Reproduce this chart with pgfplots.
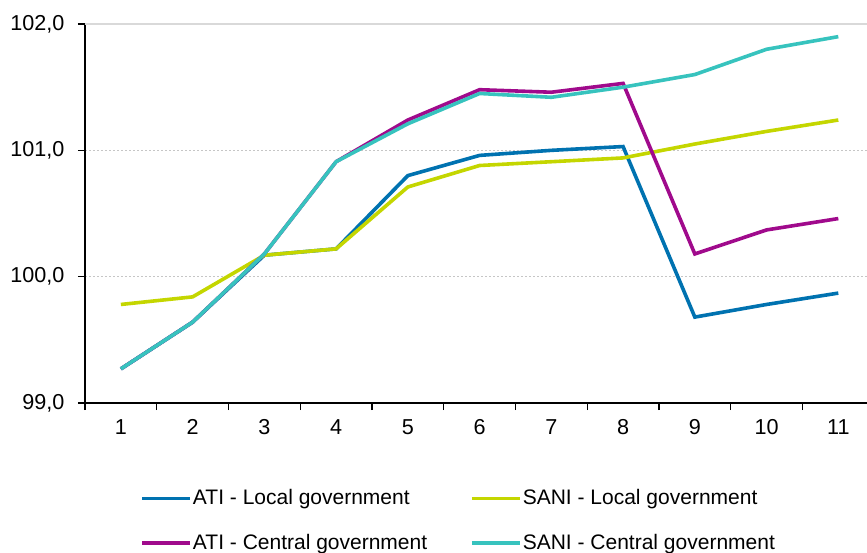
\documentclass[border=0pt]{standalone}
\usepackage{pgfplots}
\pgfplotsset{compat=1.18}
\usepackage{fontspec}
\setmainfont{Liberation Sans}
\definecolor{cblue}{RGB}{0,114,176}
\definecolor{clime}{RGB}{196,214,0}
\definecolor{cmag}{RGB}{160,10,140}
\definecolor{cteal}{RGB}{55,195,190}
\begin{document}
\fontsize{10.8}{13}\selectfont
\begin{tikzpicture}
\useasboundingbox (-42.5pt,-74.5pt) rectangle (391pt,201.5pt);
\begin{axis}[
  scale only axis,
  width=391pt, height=189.5pt,
  at={(0,0)}, anchor=south west,
  xmin=0.5, xmax=11.4,
  ymin=99, ymax=102,
  axis x line*=bottom,
  axis y line*=left,
  axis line style={black, line width=0.6pt},
  xtick={1,...,11},
  minor xtick={0.5,1.5,...,10.5},
  major x tick style={draw=none},
  minor tick length=3.5pt,
  major tick length=3.5pt,
  tick align=outside,
  tick style={black, line width=0.6pt},
  ytick={99,100,101},
  extra y ticks={102},
  extra y tick style={grid=major, major grid style={gray!30, solid, line width=0.9pt}},
  ymajorgrids,
  major grid style={gray!45, dash pattern=on 1pt off 1pt, line width=0.5pt},
  yticklabel style={/pgf/number format/fixed, /pgf/number format/fixed zerofill, /pgf/number format/precision=1, /pgf/number format/use comma, /pgf/number format/assume math mode=true, xshift=-3pt},
  xticklabel style={/pgf/number format/assume math mode=true, yshift=-1pt},
  ticklabel style={font=\fontsize{10.8}{13}\selectfont},
  clip=false,
  legend columns=2,
  legend cell align=left,
  legend style={draw=none, fill=none, at={(27.5pt,-42.5pt)}, anchor=north west,
    font=\fontsize{10.5}{12.6}\selectfont,
    /tikz/every even column/.append style={column sep=21pt},
    row sep=12pt, inner sep=0pt,
    nodes={inner sep=0.5pt}},
  legend image code/.code={\draw[#1, line width=1.8pt] (0pt,0pt) -- (24pt,0pt);},
  every axis plot/.append style={line width=1.8pt},
]
\addplot[cblue] coordinates {(1,99.27) (2,99.64) (3,100.17) (4,100.22) (5,100.80) (6,100.96) (7,101.00) (8,101.03) (9,99.68) (10,99.78) (11,99.87)};
\addlegendentry{ATI - Local government}
\addplot[clime] coordinates {(1,99.78) (2,99.84) (3,100.17) (4,100.22) (5,100.71) (6,100.88) (7,100.91) (8,100.94) (9,101.05) (10,101.15) (11,101.24)};
\addlegendentry{SANI - Local government}
\addplot[cmag] coordinates {(1,99.27) (2,99.64) (3,100.18) (4,100.91) (5,101.24) (6,101.48) (7,101.46) (8,101.53) (9,100.18) (10,100.37) (11,100.46)};
\addlegendentry{ATI - Central government}
\addplot[cteal] coordinates {(1,99.27) (2,99.64) (3,100.18) (4,100.91) (5,101.21) (6,101.45) (7,101.42) (8,101.50) (9,101.60) (10,101.80) (11,101.90)};
\addlegendentry{SANI - Central government}
\end{axis}
\end{tikzpicture}
\end{document}
